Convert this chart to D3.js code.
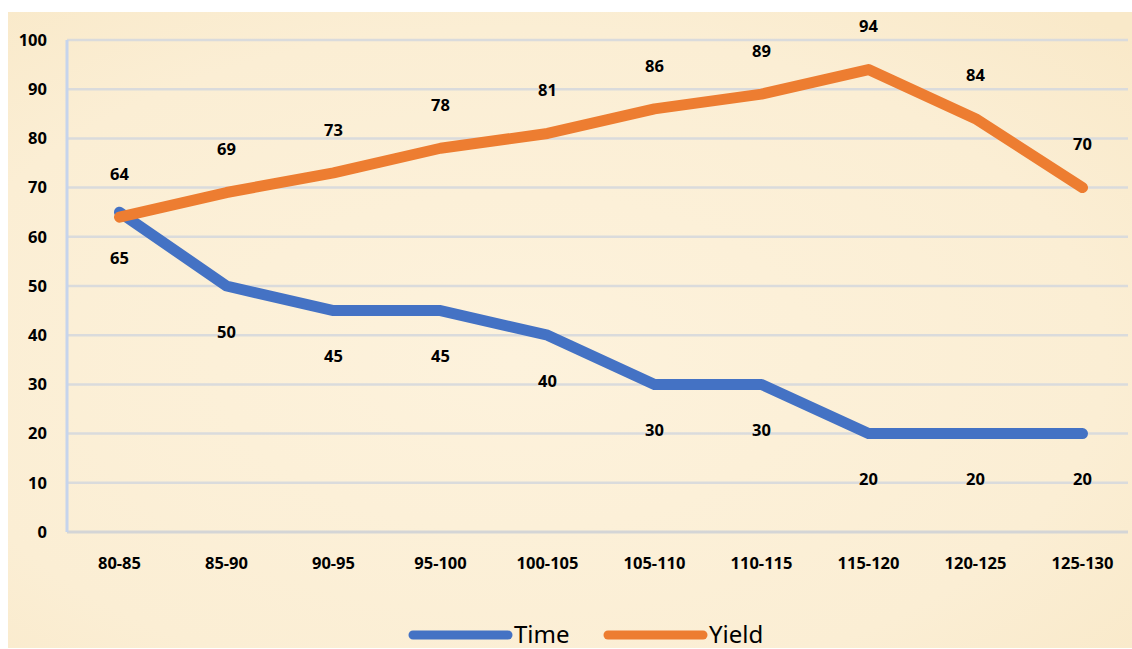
<!DOCTYPE html>
<html>
<head>
<meta charset="utf-8">
<script src="https://cdn.jsdelivr.net/npm/d3@7"></script>
<style>
  body { margin: 0; background: #fff; }
  svg { display: block; }
</style>
</head>
<body>
<svg width="1132" height="649"></svg>
<script>
const categories = ["80-85", "85-90", "90-95", "95-100", "100-105", "105-110", "110-115", "115-120", "120-125", "125-130"]
const timeValues = [65, 50, 45, 45, 40, 30, 30, 20, 20, 20]
const yieldValues = [64, 69, 73, 78, 81, 86, 89, 94, 84, 70]
const yTicks = [0, 10, 20, 30, 40, 50, 60, 70, 80, 90, 100]

const series = [
  { name: "Time", values: timeValues, color: "#4472c4", labelDy: 46 },
  { name: "Yield", values: yieldValues, color: "#ed7d31", labelDy: -43 }
]

const svg = d3.select("svg")
const font = "'Noto Sans', 'DejaVu Sans', sans-serif"

// parchment background
const defs = svg.append("defs")
const grad = defs.append("radialGradient").attr("id", "bg").attr("cx", "45%").attr("cy", "55%").attr("r", "75%")
grad.append("stop").attr("offset", "0%").attr("stop-color", "#fdf2dc")
grad.append("stop").attr("offset", "70%").attr("stop-color", "#fbeed4")
grad.append("stop").attr("offset", "100%").attr("stop-color", "#f9e9c9")
svg.append("rect").attr("x", 8).attr("y", 12).attr("width", 1124).attr("height", 636).attr("fill", "url(#bg)")

const x = d3.scaleBand().domain(categories).range([66, 1136])
const y = d3.scaleLinear().domain([0, 100]).range([532, 40])
const cx = d => x(d) + x.bandwidth() / 2

// gridlines
svg.append("g").selectAll("line").data(yTicks.filter(t => t > 0)).join("line")
  .attr("x1", 67).attr("x2", 1128)
  .attr("y1", d => y(d)).attr("y2", d => y(d))
  .attr("stroke", "#dadbdc").attr("stroke-width", 2.5)

// axis lines
svg.append("line").attr("x1", 67).attr("x2", 1128).attr("y1", y(0)).attr("y2", y(0))
  .attr("stroke", "#d4d5d6").attr("stroke-width", 3)
svg.append("line").attr("x1", 67).attr("x2", 67).attr("y1", y(100)).attr("y2", y(0))
  .attr("stroke", "#c6d4ec").attr("stroke-width", 3)

// y tick labels
svg.append("g").selectAll("text").data(yTicks).join("text")
  .attr("x", 47).attr("y", d => y(d)).attr("dy", "0.35em")
  .attr("text-anchor", "end")
  .attr("font-family", font).attr("font-weight", "bold").attr("font-size", 16.5)
  .attr("fill", "#000").text(d => d)

// x tick labels
svg.append("g").selectAll("text").data(categories).join("text")
  .attr("x", d => cx(d)).attr("y", 563).attr("dy", "0.35em")
  .attr("text-anchor", "middle")
  .attr("font-family", font).attr("font-weight", "bold").attr("font-size", 16.5)
  .attr("fill", "#000").text(d => d)

const line = d3.line().x((d, i) => cx(categories[i])).y(d => y(d))

for (const s of series) {
  svg.append("path").datum(s.values)
    .attr("d", line)
    .attr("fill", "none")
    .attr("stroke", s.color)
    .attr("stroke-width", 11)
    .attr("stroke-linecap", "round")
    .attr("stroke-linejoin", "round")
}

for (const s of series) {
  svg.append("g").selectAll("text").data(s.values).join("text")
    .attr("x", (d, i) => cx(categories[i]))
    .attr("y", d => y(d) + s.labelDy)
    .attr("dy", "0.35em")
    .attr("text-anchor", "middle")
    .attr("font-family", font).attr("font-weight", "bold").attr("font-size", 16.5)
    .attr("fill", "#000").text(d => d)
}

// legend
const legend = svg.append("g")
const legendX = [413, 608]
series.forEach((s, i) => {
  legend.append("line")
    .attr("x1", legendX[i]).attr("x2", legendX[i] + 95)
    .attr("y1", 635).attr("y2", 635)
    .attr("stroke", s.color).attr("stroke-width", 9).attr("stroke-linecap", "round")
  legend.append("text")
    .attr("x", legendX[i] + 101).attr("y", 635).attr("dy", "0.35em")
    .attr("font-family", font).attr("font-size", 24)
    .attr("fill", "#000").text(s.name)
})
</script>
</body>
</html>
